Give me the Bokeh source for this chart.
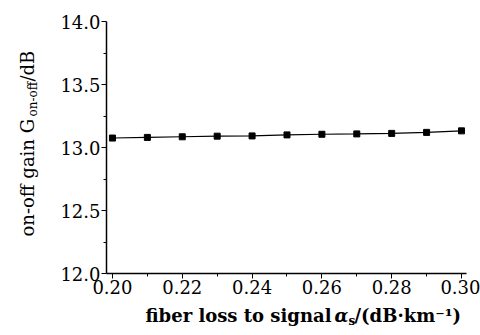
import math
from bokeh.plotting import figure
from bokeh.models import Label, FixedTicker, Range1d
from bokeh.embed import file_html
from bokeh.resources import INLINE

# data
loss = [0.20, 0.21, 0.22, 0.23, 0.24, 0.25, 0.26, 0.27, 0.28, 0.29, 0.30]
gain = [13.075, 13.08, 13.085, 13.09, 13.092, 13.10, 13.105, 13.108, 13.112, 13.12, 13.132]
x_ticks = [0.20, 0.22, 0.24, 0.26, 0.28, 0.30]
y_ticks = [12.0, 12.5, 13.0, 13.5, 14.0]

W, H = 480, 335
L, R, T, B = 106, 13, 15, 62
x0, x1 = 0.19829, 0.30143
y0, y1 = 12.0, 14.0
L_EFF, T_EFF = 107, 21  # borders after the title panels are stacked

p = figure(width=W, height=H, output_backend="svg", toolbar_location=None,
           x_range=Range1d(x0, x1), y_range=Range1d(y0, y1),
           min_border_left=L, min_border_right=R, min_border_top=T, min_border_bottom=B)
p.outline_line_color = None
p.grid.visible = False

FONT = "DejaVu Serif"
for ax in (p.xaxis[0], p.yaxis[0]):
    ax.major_label_text_font = FONT
    ax.major_label_text_font_size = "18px"
    ax.major_label_text_color = "black"
    ax.axis_line_color = "black"
    ax.axis_line_width = 1.5
    ax.major_tick_line_color = "black"
    ax.minor_tick_line_color = "black"
    ax.major_tick_in = 0
    ax.major_tick_out = 5
    ax.minor_tick_in = 0
    ax.minor_tick_out = 3
p.xaxis.ticker = FixedTicker(ticks=x_ticks, minor_ticks=[0.21, 0.23, 0.25, 0.27, 0.29])
p.yaxis.ticker = FixedTicker(ticks=y_ticks, minor_ticks=[12.25, 12.75, 13.25, 13.75])
p.xaxis.major_label_overrides = {t: f"{t:.2f}" for t in x_ticks}
p.yaxis.major_label_overrides = {t: f"{t:.1f}" for t in y_ticks}
p.xaxis.major_label_standoff = 1
p.yaxis.major_label_standoff = 1

p.line(loss, gain, line_color="black", line_width=1.1)
p.scatter(loss, gain, marker="square", size=6, color="black")

fw = W - L_EFF - R
fh = H - B - T_EFF

def dx(px):
    return x0 + (px - L_EFF) / fw * (x1 - x0)

def dy(py):
    return y0 + (H - B - py) / fh * (y1 - y0)

def lab(side, px, py, text, **kw):
    opts = dict(text_font=FONT, text_font_size="18px", text_color="black",
                text_baseline="alphabetic", text_align="left")
    opts.update(kw)
    p.add_layout(Label(x=dx(px), y=dy(py), text=text, **opts), side)

# x-axis title pieces
lab("below", 332, 315, "fiber loss to signal", text_font_style="bold", text_align="right")
lab("below", 349, 320, "s", text_font_style="bold", text_font_size="12px")
lab("right", 335, 315, "α", text_font_style="bold italic")
lab("above", 355, 315, "/(dB·km⁻¹)", text_font_style="bold")

# y-axis title pieces (rotated)
a = math.pi / 2
lab("left", 28, 236, "on-off gain G", angle=a)
lab("left", 33, 116, "on-off", angle=a, text_font_size="12px")
lab("left", 28, 81, "/dB", angle=a)

open("out.html", "w").write(file_html(p, INLINE))
